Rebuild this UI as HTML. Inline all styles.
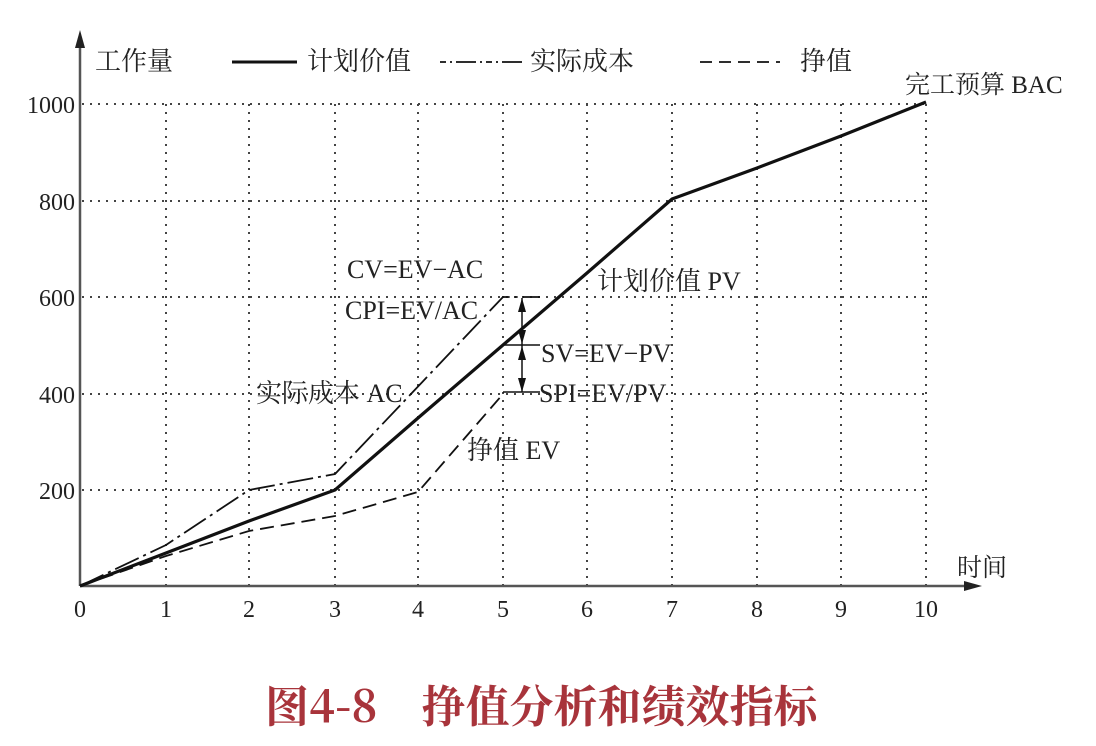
<!DOCTYPE html>
<html><head><meta charset="utf-8"><style>
html,body{margin:0;padding:0;background:#fff;}
svg{display:block}
text{font-family:"Liberation Serif","Noto Serif CJK SC","Noto Sans CJK SC",serif;fill:#222;}
</style></head><body>
<svg width="1096" height="746" viewBox="0 0 1096 746" xmlns="http://www.w3.org/2000/svg">
<g stroke="#444" stroke-width="2" stroke-dasharray="2,6" fill="none">
<line x1="82" y1="104" x2="926" y2="104"/>
<line x1="82" y1="201" x2="926" y2="201"/>
<line x1="82" y1="297" x2="926" y2="297"/>
<line x1="82" y1="394" x2="926" y2="394"/>
<line x1="82" y1="490" x2="926" y2="490"/>
<line x1="166" y1="104" x2="166" y2="586"/>
<line x1="249" y1="104" x2="249" y2="586"/>
<line x1="335" y1="104" x2="335" y2="586"/>
<line x1="418" y1="104" x2="418" y2="586"/>
<line x1="503" y1="104" x2="503" y2="586"/>
<line x1="587" y1="104" x2="587" y2="586"/>
<line x1="672" y1="104" x2="672" y2="586"/>
<line x1="757" y1="104" x2="757" y2="586"/>
<line x1="841" y1="104" x2="841" y2="586"/>
<line x1="926" y1="104" x2="926" y2="586"/>
</g>
<g stroke="#555" stroke-width="2.5" fill="none">
<line x1="80" y1="586" x2="80" y2="44"/>
<line x1="80" y1="586" x2="968" y2="586"/>
</g>
<polygon points="80,30 75,48 85,48" fill="#222"/>
<polygon points="982,586 964,581 964,591" fill="#222"/>
<polyline fill="none" stroke="#111" stroke-width="3.2" points="80,586 166,553 249,521 335,490 418,418 503,345 587,273 672,199 757,168 841,136 926,102"/>
<polyline fill="none" stroke="#111" stroke-width="1.8" stroke-dasharray="26,5,3,5" points="80,586 166,545 249,490 335,474 503,297 540,297"/>
<polyline fill="none" stroke="#111" stroke-width="1.8" stroke-dasharray="14,7" points="80,586 166,556 249,531 335,516 418,492 503,394"/>
<line x1="503" y1="392" x2="540" y2="392" stroke="#111" stroke-width="1.5"/>
<line x1="503" y1="345" x2="540" y2="345" stroke="#111" stroke-width="1.5"/>
<line x1="522" y1="298" x2="522" y2="392" stroke="#111" stroke-width="1.5"/>
<g fill="#111">
<polygon points="522,298 518,312 526,312"/>
<polygon points="522,344 518,330 526,330"/>
<polygon points="522,346 518,360 526,360"/>
<polygon points="522,392 518,378 526,378"/>
</g>
<text x="95" y="70" font-size="26">工作量</text>
<line x1="232" y1="62" x2="297" y2="62" stroke="#111" stroke-width="3"/>
<text x="307" y="70" font-size="26">计划价值</text>
<line x1="440" y1="62" x2="525" y2="62" stroke="#111" stroke-width="1.8" stroke-dasharray="6,4,2,4,20,4,2,4"/>
<text x="530" y="70" font-size="26">实际成本</text>
<line x1="700" y1="62" x2="780" y2="62" stroke="#111" stroke-width="1.8" stroke-dasharray="12,7"/>
<text x="800" y="70" font-size="26">挣值</text>
<text x="905" y="93" font-size="25">完工预算 BAC</text>
<g font-size="24" text-anchor="end">
<text x="75" y="113">1000</text>
<text x="75" y="210">800</text>
<text x="75" y="306">600</text>
<text x="75" y="403">400</text>
<text x="75" y="499">200</text>
</g>
<g font-size="24" text-anchor="middle">
<text x="80" y="617">0</text>
<text x="166" y="617">1</text>
<text x="249" y="617">2</text>
<text x="335" y="617">3</text>
<text x="418" y="617">4</text>
<text x="503" y="617">5</text>
<text x="587" y="617">6</text>
<text x="672" y="617">7</text>
<text x="757" y="617">8</text>
<text x="841" y="617">9</text>
<text x="926" y="617">10</text>
</g>
<text x="957" y="576" font-size="25">时间</text>
<g font-size="26">
<text x="347" y="278">CV=EV−AC</text>
<text x="345" y="319">CPI=EV/AC</text>
<text x="597" y="290">计划价值 PV</text>
<text x="541" y="362">SV=EV−PV</text>
<text x="539" y="402">SPI=EV/PV</text>
<text x="256" y="402">实际成本 AC</text>
<text x="467" y="459">挣值 EV</text>
</g>
<text x="265" y="722" font-size="44" style="fill:#a8343b;font-family:'Noto Serif CJK SC','Liberation Serif',serif;font-weight:bold">图4-8　挣值分析和绩效指标</text>
</svg>
</body></html>
